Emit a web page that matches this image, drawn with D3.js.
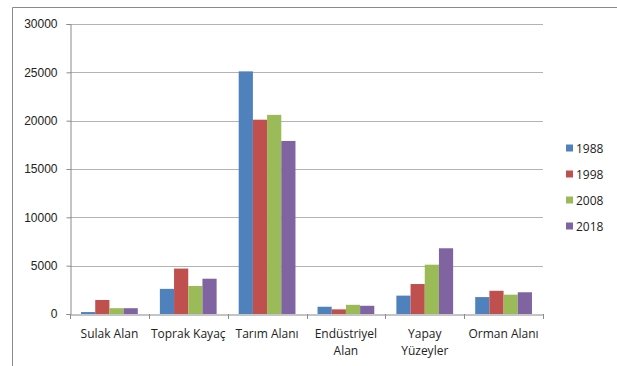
<!DOCTYPE html>
<html lang="tr">
<head>
    <meta charset="UTF-8">
    <title>Arazi Kullanımı</title>
    <style>
        body {
            margin: 0;
            background: #fff;
            font-family: "Open Sans", sans-serif;
        }
        svg {
            display: block;
        }
        .tick text {
            font-size: 12px;
            fill: #222;
        }
        .legend-item text {
            font-size: 12px;
            fill: #222;
        }
    </style>
    <script src="https://d3js.org/d3.v7.min.js"></script>
</head>
<body>
    <svg id="chart" width="617" height="366"></svg>
    <script>
        const categories = ["Sulak Alan", "Toprak Kayaç", "Tarım Alanı", "Endüstriyel Alan", "Yapay Yüzeyler", "Orman Alanı"];
        const years = ["1988", "1998", "2008", "2018"];
        const values1988 = [200, 2600, 25100, 750, 1900, 1750];
        const values1998 = [1450, 4700, 20100, 480, 3100, 2400];
        const values2008 = [600, 2900, 20600, 950, 5100, 2000];
        const values2018 = [600, 3650, 17900, 850, 6800, 2250];
        const yTicks = [0, 5000, 10000, 15000, 20000, 25000, 30000];
        const colors = ["#4F81BD", "#C0504D", "#9BBB59", "#8064A2"];

        const series = [values1988, values1998, values2008, values2018];

        const svg = d3.select("#chart");
        const plotLeft = 70, plotRight = 543, plotTop = 24, plotBottom = 314;

        // outer frame (only top and left edges show in the picture)
        svg.append("path")
            .attr("d", `M12.5,366 V7.5 H617`)
            .attr("fill", "none")
            .attr("stroke", "#8a8a8a")
            .attr("stroke-width", 1);

        const x = d3.scaleBand()
            .domain(categories)
            .range([plotLeft, plotRight]);

        const xInner = d3.scaleBand()
            .domain(years)
            .range([0, x.bandwidth() * 0.72])
            .padding(0);

        const y = d3.scaleLinear()
            .domain([0, 30000])
            .range([plotBottom, plotTop]);

        // gridlines
        svg.append("g")
            .selectAll("line")
            .data(yTicks.filter(d => d > 0))
            .enter().append("line")
            .attr("x1", plotLeft)
            .attr("x2", plotRight)
            .attr("y1", d => Math.round(y(d)) + 0.5)
            .attr("y2", d => Math.round(y(d)) + 0.5)
            .attr("stroke", "#b3b3b3");

        // bars
        const offset = (x.bandwidth() - xInner.range()[1]) / 2;
        years.forEach((yr, s) => {
            svg.append("g")
                .selectAll("rect")
                .data(categories)
                .enter().append("rect")
                .attr("x", (c) => x(c) + offset + xInner(yr))
                .attr("width", xInner.bandwidth())
                .attr("y", (c, i) => y(series[s][i]))
                .attr("height", (c, i) => plotBottom - y(series[s][i]))
                .attr("fill", colors[s]);
        });

        // y axis
        const yAxis = svg.append("g")
            .attr("transform", `translate(${plotLeft + 0.5},0)`)
            .call(d3.axisLeft(y).tickValues(yTicks).tickSize(4).tickPadding(9).tickFormat(d3.format("d")));
        yAxis.select(".domain").attr("stroke", "#8a8a8a");
        yAxis.selectAll(".tick line").attr("stroke", "#8a8a8a");

        // x axis
        const xAxis = svg.append("g")
            .attr("transform", `translate(0,${plotBottom + 0.5})`)
            .call(d3.axisBottom(x).tickSize(0).tickPadding(0));
        xAxis.select(".domain").attr("stroke", "#8a8a8a");
        xAxis.selectAll(".tick text").remove();

        // tick marks between categories
        const bounds = categories.map(c => x(c)).concat([plotRight]);
        svg.append("g")
            .selectAll("line")
            .data(bounds)
            .enter().append("line")
            .attr("x1", d => Math.round(d) + 0.5)
            .attr("x2", d => Math.round(d) + 0.5)
            .attr("y1", plotBottom)
            .attr("y2", plotBottom + 5)
            .attr("stroke", "#8a8a8a");

        // category labels, wrapped like the original
        const labelLines = {
            "Endüstriyel Alan": ["Endüstriyel", "Alan"],
            "Yapay Yüzeyler": ["Yapay", "Yüzeyler"]
        };
        categories.forEach(c => {
            const lines = labelLines[c] || [c];
            const t = svg.append("text")
                .attr("x", x(c) + x.bandwidth() / 2)
                .attr("y", 337.5)
                .attr("text-anchor", "middle")
                .style("font-size", "12px")
                .style("fill", "#222");
            lines.forEach((l, i) => {
                t.append("tspan")
                    .attr("x", x(c) + x.bandwidth() / 2)
                    .attr("dy", i === 0 ? 0 : 17)
                    .text(l);
            });
        });

        // legend
        const legend = svg.append("g")
            .attr("transform", "translate(566,148)");
        const items = legend.selectAll(".legend-item")
            .data(years)
            .enter().append("g")
            .attr("class", "legend-item")
            .attr("transform", (d, i) => `translate(0,${i * 26})`);
        items.append("rect")
            .attr("x", 0)
            .attr("y", -3.5)
            .attr("width", 7)
            .attr("height", 7)
            .attr("fill", (d, i) => colors[i]);
        items.append("text")
            .attr("x", 10)
            .attr("y", 4.5)
            .text(d => d);
    </script>
</body>
</html>
